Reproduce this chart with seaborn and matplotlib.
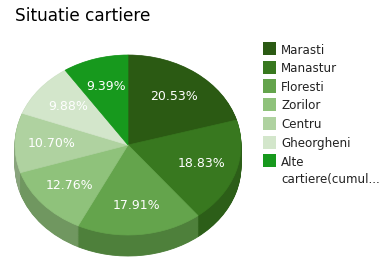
import numpy as np
import matplotlib
matplotlib.use("Agg")
import matplotlib.pyplot as plt
from matplotlib.patches import Rectangle
import seaborn as sns

title = "Situatie cartiere"
labels = ["Marasti", "Manastur", "Floresti", "Zorilor", "Centru", "Gheorgheni",
          "Alte\ncartiere(cumul..."]
values = [20.53, 18.83, 17.91, 12.76, 10.70, 9.88, 9.39]
hex_colors = ["#2b5a13", "#38781f", "#64a44c", "#8fc27b", "#afd2a0", "#d3e6cb", "#17991d"]

sns.set_theme(style="white")
plt.rcParams["font.family"] = ["DejaVu Sans"]

W, H = 389, 272
fig = plt.figure(figsize=(W / 100, H / 100), dpi=100)
fig.patch.set_facecolor("white")

# pie geometry in pixels (top-left origin)
cx, cy, rx, ry, depth = 128, 145, 113, 90, 21
d_units = depth / ry
top_px = cy - ry
bottom_px = cy + ry + depth
ax = fig.add_axes([(cx - rx) / W, (H - bottom_px) / H, 2 * rx / W, (bottom_px - top_px) / H])

palette = sns.color_palette(hex_colors)
side_colors = [tuple(c * 0.78 for c in col) for col in palette]

# extruded side: stack of darker pies
n_layers = 30
for k in range(n_layers, 0, -1):
    off = d_units * k / n_layers
    side_wedges, _ = ax.pie(values, colors=side_colors, startangle=90, counterclock=False,
                            center=(0, -off), radius=1.0,
                            wedgeprops=dict(linewidth=0.6))
    for w in side_wedges:
        w.set_edgecolor(w.get_facecolor())

wedges, texts, autotexts = ax.pie(
    values, colors=palette, startangle=90, counterclock=False,
    autopct="%.2f%%", pctdistance=0.68, radius=1.0,
    textprops=dict(color="white", fontsize=9),
    wedgeprops=dict(linewidth=0.5))
for w in wedges:
    w.set_edgecolor(w.get_facecolor())

ax.set_aspect("auto")
ax.set_xlim(-1, 1)
ax.set_ylim(-1 - d_units, 1)
ax.axis("off")

# title
fig.text(15 / W, 1 - 21 / H, title, fontsize=12.2, color="black",
         ha="left", va="baseline")

# legend
sq = 13
sq_x = 263
txt_x = 281
row_centers = [48.7, 67.5, 86.0, 104.4, 123.3, 142.0, 160.5]
for lab, col, yc in zip(labels, palette, row_centers):
    fig.add_artist(Rectangle((sq_x / W, 1 - (yc + sq / 2) / H), sq / W, sq / H,
                             transform=fig.transFigure, facecolor=col,
                             edgecolor="none"))
    for j, line in enumerate(lab.split("\n")):
        fig.text(txt_x / W, 1 - (yc + j * 18) / H, line, fontsize=8.6,
                 color="#222222", ha="left", va="center_baseline")

fig.savefig("out.png", dpi=100, facecolor="white")
